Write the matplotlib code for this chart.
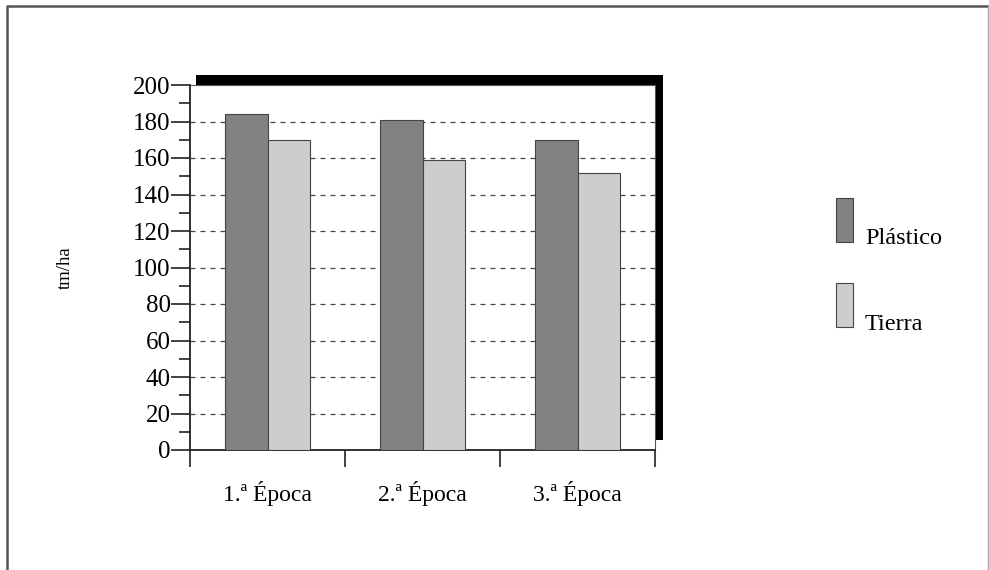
import matplotlib.pyplot as plt
from matplotlib.patches import Rectangle
from matplotlib.lines import Line2D
import numpy as np

plt.rcParams['font.family'] = ['Liberation Serif', 'DejaVu Serif']

categories = ["1.ª Época", "2.ª Época", "3.ª Época"]
plastico = [184, 181, 170]
tierra = [170, 159, 152]
series_names = ["Plástico", "Tierra"]
colors = ["#828282", "#cdcdcd"]

W, H = 989, 570
fig = plt.figure(figsize=(W / 100, H / 100), dpi=100)

def fx(px):
    return px / W

def fy(py):
    return 1 - py / H

# outer frame (left, top, faint right; bottom is cut off)
fig.lines.append(Line2D([fx(7), fx(7), fx(989)], [fy(570), fy(6), fy(6)], transform=fig.transFigure,
                        color="#555555", linewidth=1.8))
fig.lines.append(Line2D([fx(987.5), fx(987.5)], [fy(6), fy(570)], transform=fig.transFigure,
                        color="#aaaaaa", linewidth=1.0))
# black drop shadow behind plot area
fig.patches.append(Rectangle((fx(196), fy(440)), fx(467), 365 / H, transform=fig.transFigure,
                             facecolor="black", edgecolor="none", zorder=-1))

ax = fig.add_axes([fx(190), fy(450), fx(465), 365 / H])
ax.set_facecolor("white")

x = np.arange(len(categories))
w = 0.277
ax.bar(x - w / 2, plastico, w, color=colors[0], edgecolor="#444444", linewidth=0.8, zorder=3)
ax.bar(x + w / 2, tierra, w, color=colors[1], edgecolor="#444444", linewidth=0.8, zorder=3)

ax.set_xlim(-0.5, 2.5)
ax.set_ylim(0, 200)
ax.set_yticks(range(0, 201, 20))
ax.set_yticks(range(10, 200, 20), minor=True)
for g in range(20, 200, 20):
    ax.axhline(g, color="#444444", linestyle=(0, (4, 4)), linewidth=0.9, zorder=1)

ax.set_xticks(x)
ax.set_xticklabels(categories, fontsize=17)
ax.set_xticks([-0.5, 0.5, 1.5, 2.5], minor=True)
ax.tick_params(axis="x", which="major", length=0, pad=22)
ax.tick_params(axis="x", which="minor", length=12, width=1.2, direction="out", color="#222222")
ax.tick_params(axis="y", which="major", length=14, width=1.2, direction="out", labelsize=18,
               pad=0, color="#222222")
ax.tick_params(axis="y", which="minor", length=8, width=1.2, direction="out", color="#222222")

for side in ["top", "right"]:
    ax.spines[side].set_linewidth(0.8)
    ax.spines[side].set_color("#555555")
for side in ["left", "bottom"]:
    ax.spines[side].set_linewidth(1.3)
    ax.spines[side].set_color("#222222")

fig.text(fx(65), fy(268), "tm/ha", rotation=90, ha="center", va="center", fontsize=13.5)

# legend
legend_tops = [198, 283]
for name, col, top in zip(series_names, colors, legend_tops):
    fig.patches.append(Rectangle((fx(836), fy(top + 44)), fx(17), 44 / H, transform=fig.transFigure,
                                 facecolor=col, edgecolor="#444444", linewidth=0.8))
    fig.text(fx(865), fy(top + 41), name, ha="left", va="center", fontsize=17.5)

fig.savefig("out.png", dpi=100)
